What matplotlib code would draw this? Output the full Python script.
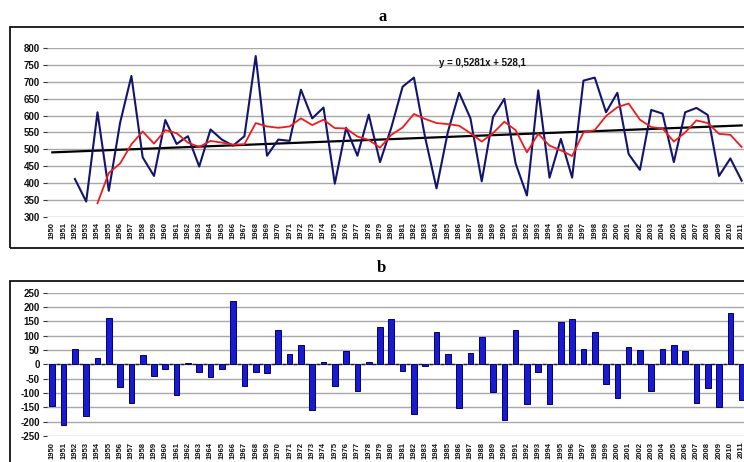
"""Annual series (a) with moving average and linear trend, and anomalies (b)."""

import matplotlib

matplotlib.use("Agg")

import matplotlib.pyplot as plt
import numpy as np
from matplotlib.patches import Rectangle

plt.rcParams["font.family"] = ["Liberation Sans", "DejaVu Sans"]

years = list(range(1950, 2012))

# panel a: annual totals (drawn from the 3rd category on)
annual = [412, 345, 610, 377, 579, 718, 476, 421, 587, 516,
          539, 449, 559, 529, 511, 539, 777, 481, 529, 525,
          677, 592, 624, 398, 564, 481, 603, 462, 565, 686,
          713, 534, 384, 551, 668, 592, 405, 596, 650, 458,
          363, 675, 416, 531, 416, 704, 713, 610, 668, 486,
          439, 617, 606, 462, 610, 623, 602, 421, 473, 407]

# panel a: moving average (drawn from the 5th category on)
moving_avg = [340, 430, 458, 515, 553, 517, 557, 548, 520, 507,
              525, 520, 514, 515, 578, 568, 564, 568, 592, 572,
              588, 563, 562, 538, 528, 505, 543, 565, 605, 590,
              578, 575, 570, 548, 523, 548, 582, 557, 491, 546,
              511, 497, 480, 550, 557, 599, 625, 636, 588, 566,
              562, 523, 550, 586, 578, 546, 543, 507]

# panel a: linear trend, values at first and last category
trend_ends = [491, 571]
trend_label = "y = 0,5281x + 528,1"

# panel b: anomalies
anomaly = [-144, -211, 54, -179, 23, 162, -80, -135, 31, -40,
           -17, -107, 3, -27, -45, -17, 221, -75, -27, -31,
           121, 36, 68, -158, 8, -75, 47, -94, 9, 130,
           157, -22, -172, -5, 112, 36, -151, 40, 94, -98,
           -193, 119, -140, -25, -140, 148, 157, 54, 112, -70,
           -117, 61, 50, -94, 54, 67, 46, -135, -83, -149,
           179, -126]

W, H = 744, 462
fig = plt.figure(figsize=(W / 100, H / 100), dpi=100)
fig.patch.set_facecolor("white")


def px_axes(left, top, right, bottom):
    return fig.add_axes([left / W, 1 - bottom / H, (right - left) / W, (bottom - top) / H])


def style_axes(ax):
    for s in ("top", "right", "left", "bottom"):
        ax.spines[s].set_visible(False)
    ax.grid(axis="y", color="#a8a8a8", linewidth=1.0, zorder=0)
    ax.set_axisbelow(True)
    ax.set_xticks(np.arange(len(years)))
    ax.set_xticklabels([str(y) for y in years], rotation=90, fontsize=5.5,
                       fontweight="bold", color="#111111")
    ax.tick_params(axis="x", length=0, pad=4)
    ax.tick_params(axis="y", length=3, width=0.8, color="#333333", labelsize=7,
                   pad=2, labelcolor="#111111")
    ax.set_xlim(-0.5, len(years) - 0.5)


# frames around each chart (right side runs off the picture)
for (x0, y0, y1) in [(10, 27, 248), (10, 281, 475)]:
    fig.patches.append(Rectangle((x0 / W, 1 - y1 / H), (760 - x0) / W, (y1 - y0) / H,
                                 transform=fig.transFigure, fill=False,
                                 edgecolor="#111111", linewidth=1.3))

# ---- panel a ----
ax_a = px_axes(46.65, 48.3, 747.3, 216.7)
x_line = np.arange(len(annual)) + 2
x_avg = np.arange(len(moving_avg)) + 4
x_trend = [0, len(years) - 1]
ax_a.plot(x_trend, trend_ends, color="#000000", linewidth=1.6, zorder=2)
ax_a.plot(x_line, annual, color="#14146e", linewidth=1.5, zorder=3)
ax_a.plot(x_avg, moving_avg, color="#ee1c1c", linewidth=1.3, zorder=4)
ax_a.set_ylim(300, 800)
ax_a.set_yticks(np.arange(300, 801, 50))
style_axes(ax_a)
ax_a.set_yticklabels([str(v) for v in range(300, 801, 50)], fontweight="bold")
ax_a.text(0.56, 0.945, trend_label, transform=ax_a.transAxes, fontsize=7,
          fontweight="bold", color="#111111", va="top")

# ---- panel b ----
ax_b = px_axes(46.65, 292.7, 747.3, 436.0)
xb = np.arange(len(anomaly))
ax_b.bar(xb, anomaly, width=0.5, color="#1a1ad0", edgecolor="#00006e",
         linewidth=0.7, zorder=3)
ax_b.plot(xb[:-1] + 0.5, np.zeros(len(xb) - 1), linestyle="none", marker="_",
          markersize=2.5, color="#222222", zorder=2)
ax_b.set_ylim(-250, 250)
ax_b.set_yticks(np.arange(-250, 251, 50))
style_axes(ax_b)
ax_b.set_yticklabels([str(v) for v in range(-250, 251, 50)], fontweight="bold")

fig.text(383 / W, 1 - 17 / H, "a", ha="center", va="center", fontsize=12,
         fontweight="bold", family=["Liberation Serif", "DejaVu Serif"])
fig.text(381 / W, 1 - 268 / H, "b", ha="center", va="center", fontsize=12,
         fontweight="bold", family=["Liberation Serif", "DejaVu Serif"])

fig.savefig("out.png", dpi=100)
